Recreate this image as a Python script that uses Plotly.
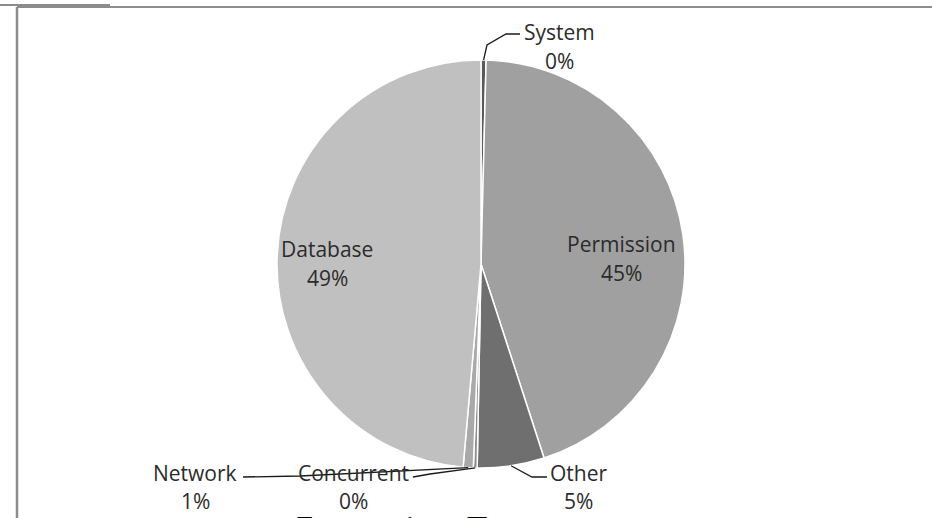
import math
import plotly.graph_objects as go

# data, clockwise from 12 o'clock
labels = ["System", "Permission", "Other", "Concurrent", "Network", "Database"]
values = [0.4, 44.6, 5.3, 0.3, 0.8, 48.6]
colors = ["#5a5a5a", "#a0a0a0", "#6f6f6f", "#8c8c8c", "#a9a9a9", "#c0c0c0"]

W, H = 932, 518
CX, CY, R = 481, 264, 204   # pie centre / radius in pixels

# where each label block sits (pixels): (x centre, name y, percent y)
label_pos = {
    "System": (559, 32, 61),
    "Permission": (621, 244, 273),
    "Other": (578, 473, 501),
    "Concurrent": (353, 473, 501),
    "Network": (195, 473, 501),
    "Database": (327, 249, 278),
}
# leader line bends (pixels) from the slice edge to the label
leader_bends = {
    "System": [(487, 45), (506, 34), (520, 34)],
    "Other": [(532, 477), (547, 477)],
    "Concurrent": [(430, 474), (413, 477)],
    "Network": [(300, 476), (243, 477)],
}

def px(x, y):
    return x / W, 1 - y / H

fig = go.Figure(go.Pie(
    labels=labels, values=values, sort=False, direction="clockwise", rotation=0,
    marker=dict(colors=colors, line=dict(color="white", width=1.5)),
    textinfo="none", hoverinfo="label+percent", showlegend=False,
    domain=dict(x=[(CX - R) / W, (CX + R) / W], y=[(H - CY - R) / H, (H - CY + R) / H]),
))

total = sum(values)
cum = 0
shapes = []
annotations = []
label_font = dict(family="Open Sans", size=21, color="#2b2b2b")
for name, v in zip(labels, values):
    mid = (cum + v / 2) / total * 2 * math.pi
    cum += v
    ex, ey = CX + R * math.sin(mid), CY - R * math.cos(mid)
    lx, ly1, ly2 = label_pos[name]
    for txt, ly in [(name, ly1), (f"{round(v / total * 100)}%", ly2)]:
        x, y = px(lx, ly)
        annotations.append(dict(
            x=x, y=y, xref="paper", yref="paper", xanchor="center", yanchor="middle",
            showarrow=False, text=txt, font=label_font,
        ))
    if name in leader_bends:
        pts = [(ex, ey)] + leader_bends[name]
        path = "M " + " L ".join(f"{px(a, b)[0]},{px(a, b)[1]}" for a, b in pts)
        shapes.append(dict(type="path", path=path, xref="paper", yref="paper",
                           line=dict(color="#1a1a1a", width=1.3)))

# frame remnants
shapes += [
    dict(type="line", xref="paper", yref="paper", x0=0, x1=110 / W, y0=1 - 5 / H, y1=1 - 5 / H,
         line=dict(color="#8c8c8c", width=2)),
    dict(type="line", xref="paper", yref="paper", x0=17 / W, x1=1, y0=1 - 7 / H, y1=1 - 7 / H,
         line=dict(color="#8c8c8c", width=2)),
    dict(type="line", xref="paper", yref="paper", x0=17 / W, x1=17 / W, y0=0, y1=1 - 7 / H,
         line=dict(color="#8c8c8c", width=2.5)),
]

# chart title, mostly cut off at the bottom edge
annotations.append(dict(
    x=292 / W, y=1 - 503 / H, xref="paper", yref="paper", xanchor="left", yanchor="top",
    showarrow=False, text="Exception Types",
    font=dict(family="Open Sans", size=36, color="#000000"),
))

fig.update_layout(
    width=W, height=H, margin=dict(l=0, r=0, t=0, b=0),
    paper_bgcolor="white", plot_bgcolor="white",
    shapes=shapes, annotations=annotations,
)
fig.write_html("out.html", config={"displayModeBar": False},
               post_script="document.body.style.margin='0px';")
